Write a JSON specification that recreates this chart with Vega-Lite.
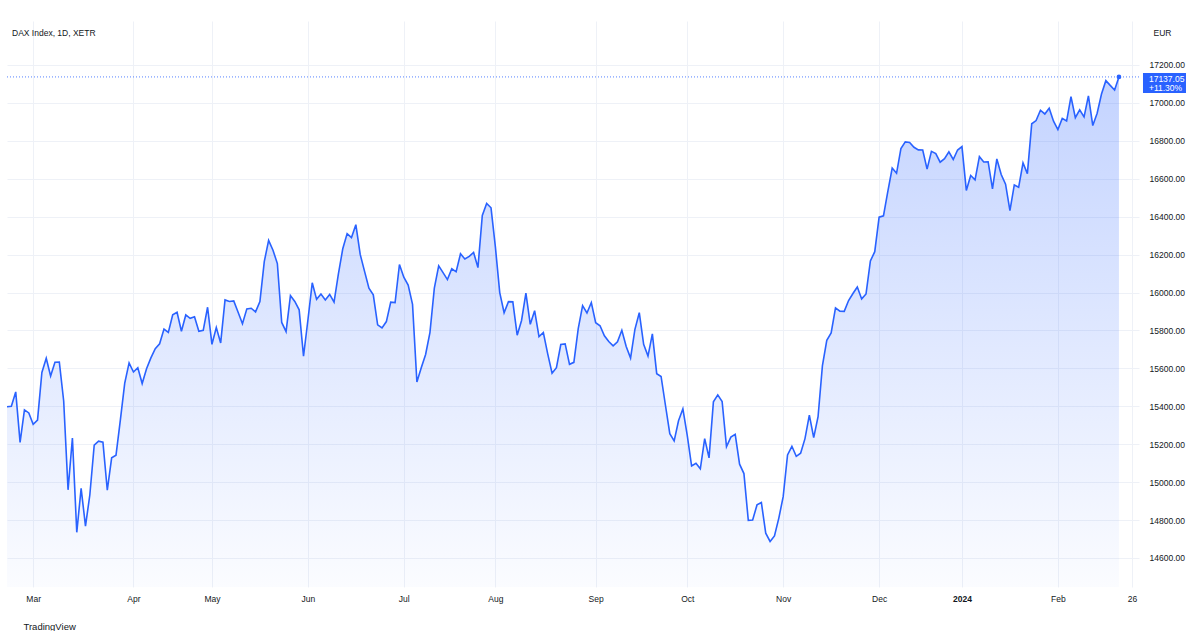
{
  "$schema": "https://vega.github.io/schema/vega-lite/v6.json",
  "width": 1132,
  "height": 566,
  "padding": {"left": 3, "top": 21, "right": 8, "bottom": 0},
  "background": "#ffffff",
  "config": {
    "view": {"stroke": null},
    "font": "Liberation Sans",
    "axis": {"labelColor": "#131722", "labelFontSize": 8.5, "titleColor": "#131722", "titleFontWeight": "normal"}
  },
  "title": {
    "text": "DAX Index, 1D, XETR",
    "anchor": "start",
    "frame": "group",
    "baseline": "middle",
    "offset": -20,
    "dx": 5,
    "fontSize": 8.5,
    "fontWeight": "normal",
    "color": "#131722"
  },
  "data": {
    "values": [
      {"date": "2023-02-21", "close": 15397.6},
      {"date": "2023-02-22", "close": 15399.9},
      {"date": "2023-02-23", "close": 15475.7},
      {"date": "2023-02-24", "close": 15209.7},
      {"date": "2023-02-27", "close": 15381.4},
      {"date": "2023-02-28", "close": 15365.1},
      {"date": "2023-03-01", "close": 15305.0},
      {"date": "2023-03-02", "close": 15327.6},
      {"date": "2023-03-03", "close": 15578.4},
      {"date": "2023-03-06", "close": 15653.6},
      {"date": "2023-03-07", "close": 15559.5},
      {"date": "2023-03-08", "close": 15631.9},
      {"date": "2023-03-09", "close": 15633.2},
      {"date": "2023-03-10", "close": 15427.9},
      {"date": "2023-03-13", "close": 14959.5},
      {"date": "2023-03-14", "close": 15232.8},
      {"date": "2023-03-15", "close": 14735.3},
      {"date": "2023-03-16", "close": 14967.1},
      {"date": "2023-03-17", "close": 14768.2},
      {"date": "2023-03-20", "close": 14933.4},
      {"date": "2023-03-21", "close": 15195.3},
      {"date": "2023-03-22", "close": 15216.2},
      {"date": "2023-03-23", "close": 15210.4},
      {"date": "2023-03-24", "close": 14957.2},
      {"date": "2023-03-27", "close": 15128.2},
      {"date": "2023-03-28", "close": 15142.0},
      {"date": "2023-03-29", "close": 15328.8},
      {"date": "2023-03-30", "close": 15522.4},
      {"date": "2023-03-31", "close": 15628.8},
      {"date": "2023-04-03", "close": 15580.9},
      {"date": "2023-04-04", "close": 15603.5},
      {"date": "2023-04-05", "close": 15520.2},
      {"date": "2023-04-06", "close": 15597.9},
      {"date": "2023-04-11", "close": 15655.2},
      {"date": "2023-04-12", "close": 15703.6},
      {"date": "2023-04-13", "close": 15729.5},
      {"date": "2023-04-14", "close": 15807.5},
      {"date": "2023-04-17", "close": 15789.5},
      {"date": "2023-04-18", "close": 15882.7},
      {"date": "2023-04-19", "close": 15895.9},
      {"date": "2023-04-20", "close": 15795.7},
      {"date": "2023-04-21", "close": 15881.7},
      {"date": "2023-04-24", "close": 15863.9},
      {"date": "2023-04-25", "close": 15872.0},
      {"date": "2023-04-26", "close": 15795.7},
      {"date": "2023-04-27", "close": 15800.5},
      {"date": "2023-04-28", "close": 15922.4},
      {"date": "2023-05-02", "close": 15726.9},
      {"date": "2023-05-03", "close": 15815.1},
      {"date": "2023-05-04", "close": 15734.2},
      {"date": "2023-05-05", "close": 15961.0},
      {"date": "2023-05-08", "close": 15952.8},
      {"date": "2023-05-09", "close": 15955.5},
      {"date": "2023-05-10", "close": 15896.2},
      {"date": "2023-05-11", "close": 15834.9},
      {"date": "2023-05-12", "close": 15913.8},
      {"date": "2023-05-15", "close": 15917.2},
      {"date": "2023-05-16", "close": 15897.9},
      {"date": "2023-05-17", "close": 15952.0},
      {"date": "2023-05-18", "close": 16163.4},
      {"date": "2023-05-19", "close": 16275.4},
      {"date": "2023-05-22", "close": 16223.0},
      {"date": "2023-05-23", "close": 16152.9},
      {"date": "2023-05-24", "close": 15842.1},
      {"date": "2023-05-25", "close": 15793.7},
      {"date": "2023-05-26", "close": 15983.9},
      {"date": "2023-05-29", "close": 15952.8},
      {"date": "2023-05-30", "close": 15908.9},
      {"date": "2023-05-31", "close": 15664.0},
      {"date": "2023-06-01", "close": 15853.7},
      {"date": "2023-06-02", "close": 16051.2},
      {"date": "2023-06-05", "close": 15963.9},
      {"date": "2023-06-06", "close": 15992.4},
      {"date": "2023-06-07", "close": 15960.6},
      {"date": "2023-06-08", "close": 15989.8},
      {"date": "2023-06-09", "close": 15949.8},
      {"date": "2023-06-12", "close": 16097.9},
      {"date": "2023-06-13", "close": 16230.7},
      {"date": "2023-06-14", "close": 16310.8},
      {"date": "2023-06-15", "close": 16290.1},
      {"date": "2023-06-16", "close": 16357.6},
      {"date": "2023-06-19", "close": 16201.2},
      {"date": "2023-06-20", "close": 16111.3},
      {"date": "2023-06-21", "close": 16023.1},
      {"date": "2023-06-22", "close": 15988.2},
      {"date": "2023-06-23", "close": 15829.9},
      {"date": "2023-06-26", "close": 15813.1},
      {"date": "2023-06-27", "close": 15846.9},
      {"date": "2023-06-28", "close": 15949.2},
      {"date": "2023-06-29", "close": 15946.7},
      {"date": "2023-06-30", "close": 16147.9},
      {"date": "2023-07-03", "close": 16081.0},
      {"date": "2023-07-04", "close": 16039.2},
      {"date": "2023-07-05", "close": 15937.7},
      {"date": "2023-07-06", "close": 15528.5},
      {"date": "2023-07-07", "close": 15603.4},
      {"date": "2023-07-10", "close": 15673.2},
      {"date": "2023-07-11", "close": 15790.3},
      {"date": "2023-07-12", "close": 16023.1},
      {"date": "2023-07-13", "close": 16141.0},
      {"date": "2023-07-14", "close": 16105.1},
      {"date": "2023-07-17", "close": 16068.4},
      {"date": "2023-07-18", "close": 16125.5},
      {"date": "2023-07-19", "close": 16109.4},
      {"date": "2023-07-20", "close": 16204.2},
      {"date": "2023-07-21", "close": 16177.2},
      {"date": "2023-07-24", "close": 16190.9},
      {"date": "2023-07-25", "close": 16211.4},
      {"date": "2023-07-26", "close": 16131.5},
      {"date": "2023-07-27", "close": 16406.0},
      {"date": "2023-07-28", "close": 16469.8},
      {"date": "2023-07-31", "close": 16446.8},
      {"date": "2023-08-01", "close": 16240.4},
      {"date": "2023-08-02", "close": 15999.8},
      {"date": "2023-08-03", "close": 15893.4},
      {"date": "2023-08-04", "close": 15951.9},
      {"date": "2023-08-07", "close": 15950.8},
      {"date": "2023-08-08", "close": 15774.9},
      {"date": "2023-08-09", "close": 15852.7},
      {"date": "2023-08-10", "close": 15996.6},
      {"date": "2023-08-11", "close": 15832.2},
      {"date": "2023-08-14", "close": 15904.3},
      {"date": "2023-08-15", "close": 15767.3},
      {"date": "2023-08-16", "close": 15789.3},
      {"date": "2023-08-17", "close": 15676.9},
      {"date": "2023-08-18", "close": 15574.3},
      {"date": "2023-08-21", "close": 15603.3},
      {"date": "2023-08-22", "close": 15725.9},
      {"date": "2023-08-23", "close": 15728.8},
      {"date": "2023-08-24", "close": 15621.5},
      {"date": "2023-08-25", "close": 15631.8},
      {"date": "2023-08-28", "close": 15810.0},
      {"date": "2023-08-29", "close": 15930.9},
      {"date": "2023-08-30", "close": 15891.9},
      {"date": "2023-08-31", "close": 15947.1},
      {"date": "2023-09-01", "close": 15840.6},
      {"date": "2023-09-04", "close": 15824.9},
      {"date": "2023-09-05", "close": 15772.2},
      {"date": "2023-09-06", "close": 15741.4},
      {"date": "2023-09-07", "close": 15718.7},
      {"date": "2023-09-08", "close": 15740.3},
      {"date": "2023-09-11", "close": 15800.9},
      {"date": "2023-09-12", "close": 15715.5},
      {"date": "2023-09-13", "close": 15654.4},
      {"date": "2023-09-14", "close": 15805.5},
      {"date": "2023-09-15", "close": 15893.5},
      {"date": "2023-09-18", "close": 15727.1},
      {"date": "2023-09-19", "close": 15664.5},
      {"date": "2023-09-20", "close": 15781.6},
      {"date": "2023-09-21", "close": 15571.9},
      {"date": "2023-09-22", "close": 15557.3},
      {"date": "2023-09-25", "close": 15405.5},
      {"date": "2023-09-26", "close": 15255.9},
      {"date": "2023-09-27", "close": 15217.5},
      {"date": "2023-09-28", "close": 15323.5},
      {"date": "2023-09-29", "close": 15386.6},
      {"date": "2023-10-02", "close": 15247.2},
      {"date": "2023-10-03", "close": 15085.2},
      {"date": "2023-10-04", "close": 15099.9},
      {"date": "2023-10-05", "close": 15070.2},
      {"date": "2023-10-06", "close": 15229.8},
      {"date": "2023-10-09", "close": 15128.1},
      {"date": "2023-10-10", "close": 15423.5},
      {"date": "2023-10-11", "close": 15460.0},
      {"date": "2023-10-12", "close": 15425.1},
      {"date": "2023-10-13", "close": 15186.7},
      {"date": "2023-10-16", "close": 15237.5},
      {"date": "2023-10-17", "close": 15251.7},
      {"date": "2023-10-18", "close": 15094.9},
      {"date": "2023-10-19", "close": 15045.2},
      {"date": "2023-10-20", "close": 14798.5},
      {"date": "2023-10-23", "close": 14800.7},
      {"date": "2023-10-24", "close": 14879.9},
      {"date": "2023-10-25", "close": 14892.2},
      {"date": "2023-10-26", "close": 14731.0},
      {"date": "2023-10-27", "close": 14687.4},
      {"date": "2023-10-30", "close": 14716.5},
      {"date": "2023-10-31", "close": 14810.3},
      {"date": "2023-11-01", "close": 14923.3},
      {"date": "2023-11-02", "close": 15143.6},
      {"date": "2023-11-03", "close": 15189.2},
      {"date": "2023-11-06", "close": 15135.9},
      {"date": "2023-11-07", "close": 15152.6},
      {"date": "2023-11-08", "close": 15229.6},
      {"date": "2023-11-09", "close": 15353.0},
      {"date": "2023-11-10", "close": 15234.4},
      {"date": "2023-11-13", "close": 15345.0},
      {"date": "2023-11-14", "close": 15614.4},
      {"date": "2023-11-15", "close": 15748.2},
      {"date": "2023-11-16", "close": 15786.6},
      {"date": "2023-11-17", "close": 15919.2},
      {"date": "2023-11-20", "close": 15901.3},
      {"date": "2023-11-21", "close": 15900.5},
      {"date": "2023-11-22", "close": 15957.8},
      {"date": "2023-11-23", "close": 15994.7},
      {"date": "2023-11-24", "close": 16029.5},
      {"date": "2023-11-27", "close": 15966.4},
      {"date": "2023-11-28", "close": 15992.7},
      {"date": "2023-11-29", "close": 16166.4},
      {"date": "2023-11-30", "close": 16215.4},
      {"date": "2023-12-01", "close": 16397.5},
      {"date": "2023-12-04", "close": 16404.5},
      {"date": "2023-12-05", "close": 16533.1},
      {"date": "2023-12-06", "close": 16656.4},
      {"date": "2023-12-07", "close": 16628.9},
      {"date": "2023-12-08", "close": 16759.2},
      {"date": "2023-12-11", "close": 16794.4},
      {"date": "2023-12-12", "close": 16791.7},
      {"date": "2023-12-13", "close": 16766.1},
      {"date": "2023-12-14", "close": 16752.2},
      {"date": "2023-12-15", "close": 16751.4},
      {"date": "2023-12-18", "close": 16650.6},
      {"date": "2023-12-19", "close": 16744.4},
      {"date": "2023-12-20", "close": 16733.1},
      {"date": "2023-12-21", "close": 16687.4},
      {"date": "2023-12-22", "close": 16706.2},
      {"date": "2023-12-27", "close": 16742.1},
      {"date": "2023-12-28", "close": 16701.5},
      {"date": "2023-12-29", "close": 16751.6},
      {"date": "2024-01-02", "close": 16769.4},
      {"date": "2024-01-03", "close": 16538.4},
      {"date": "2024-01-04", "close": 16617.3},
      {"date": "2024-01-05", "close": 16594.2},
      {"date": "2024-01-08", "close": 16716.5},
      {"date": "2024-01-09", "close": 16688.4},
      {"date": "2024-01-10", "close": 16689.8},
      {"date": "2024-01-11", "close": 16547.0},
      {"date": "2024-01-12", "close": 16704.6},
      {"date": "2024-01-15", "close": 16622.2},
      {"date": "2024-01-16", "close": 16571.7},
      {"date": "2024-01-17", "close": 16431.7},
      {"date": "2024-01-18", "close": 16567.4},
      {"date": "2024-01-19", "close": 16555.1},
      {"date": "2024-01-22", "close": 16683.4},
      {"date": "2024-01-23", "close": 16627.1},
      {"date": "2024-01-24", "close": 16889.9},
      {"date": "2024-01-25", "close": 16906.9},
      {"date": "2024-01-26", "close": 16961.4},
      {"date": "2024-01-29", "close": 16941.7},
      {"date": "2024-01-30", "close": 16972.3},
      {"date": "2024-01-31", "close": 16903.8},
      {"date": "2024-02-01", "close": 16859.0},
      {"date": "2024-02-02", "close": 16918.2},
      {"date": "2024-02-05", "close": 16904.4},
      {"date": "2024-02-06", "close": 17033.2},
      {"date": "2024-02-07", "close": 16921.9},
      {"date": "2024-02-08", "close": 16963.8},
      {"date": "2024-02-09", "close": 16926.5},
      {"date": "2024-02-12", "close": 17037.4},
      {"date": "2024-02-13", "close": 16880.8},
      {"date": "2024-02-14", "close": 16945.6},
      {"date": "2024-02-15", "close": 17046.6},
      {"date": "2024-02-16", "close": 17117.4},
      {"date": "2024-02-19", "close": 17092.3},
      {"date": "2024-02-20", "close": 17068.4},
      {"date": "2024-02-21", "close": 17137.05},
      {"date": "2024-02-22", "close": null},
      {"date": "2024-02-23", "close": null},
      {"date": "2024-02-26", "close": null},
      {"date": "2024-02-27", "close": null}
    ]
  },
  "encoding": {
    "x": {
      "field": "date",
      "type": "ordinal",
      "scale": {"type": "point", "padding": 0.3, "align": 0},
      "axis": {
        "values": ["2023-03-01", "2023-04-03", "2023-05-02", "2023-06-01", "2023-07-03", "2023-08-01", "2023-09-01", "2023-10-02", "2023-11-01", "2023-12-01", "2024-01-02", "2024-02-01", "2024-02-26"],
        "labelExpr": "utcmonth(toDate(datum.value)) == 0 ? utcFormat(toDate(datum.value), '%Y') : (utcdate(toDate(datum.value)) > 5 ? utcFormat(toDate(datum.value), '%d') : utcFormat(toDate(datum.value), '%b'))",
        "labelFontWeight": {"condition": {"test": "utcmonth(toDate(datum.value)) == 0", "value": "bold"}, "value": "normal"},
        "labelAngle": 0,
        "labelPadding": 7,
        "ticks": false,
        "domain": false,
        "grid": true,
        "gridColor": "#eef1f7",
        "title": "TradingView",
        "titleX": 16,
        "titleY": 39,
        "titleAlign": "left",
        "titleBaseline": "middle",
        "titleFontSize": 9.5
      }
    },
    "y": {
      "field": "close",
      "type": "quantitative",
      "scale": {"domain": [14447, 17432], "zero": false, "nice": false},
      "axis": {
        "orient": "right",
        "values": [14600, 14800, 15000, 15200, 15400, 15600, 15800, 16000, 16200, 16400, 16600, 16800, 17000, 17200],
        "format": ".2f",
        "labelPadding": 10,
        "ticks": false,
        "domain": false,
        "gridColor": "#eef1f7",
        "title": "EUR",
        "titleAngle": 0,
        "titleX": 14,
        "titleY": 11,
        "titleAlign": "left",
        "titleBaseline": "middle",
        "titleFontSize": 8.5
      }
    }
  },
  "layer": [
    {
      "mark": {
        "type": "area",
        "invalid": "break-paths-show-domains",
        "color": {
          "gradient": "linear",
          "x1": 1, "y1": 1, "x2": 1, "y2": 0,
          "stops": [
            {"offset": 0, "color": "rgba(41,98,255,0.02)"},
            {"offset": 1, "color": "rgba(41,98,255,0.28)"}
          ]
        }
      },
      "encoding": {"y2": {"datum": 14447}}
    },
    {
      "mark": {"type": "line", "invalid": "break-paths-show-domains", "color": "#2962FF", "strokeWidth": 1.6}
    },
    {
      "transform": [
        {"filter": "isValid(datum.close)"},
        {"window": [{"op": "first_value", "field": "close", "as": "first"}], "sort": [{"field": "date"}], "frame": [null, null]},
        {"window": [{"op": "row_number", "as": "fromEnd"}], "sort": [{"field": "date", "order": "descending"}]},
        {"filter": "datum.fromEnd == 1"},
        {"calculate": "format(datum.close, '.2f')", "as": "price"},
        {"calculate": "format(datum.close / datum.first - 1, '+.2%')", "as": "change"}
      ],
      "layer": [
        {
          "mark": {"type": "rule", "color": "#2962FF", "strokeWidth": 1, "strokeDash": [1, 2], "opacity": 0.8},
          "encoding": {"x": null}
        },
        {
          "mark": {"type": "point", "filled": true, "color": "#2962FF", "opacity": 1, "size": 22}
        },
        {
          "mark": {
            "type": "point",
            "filled": true,
            "color": "#2962FF",
            "opacity": 1,
            "size": 10000,
            "shape": "M0.481,-0.078L1.341,-0.078L1.341,0.322L0.481,0.322Z"
          }
        },
        {
          "mark": {"type": "text", "align": "left", "baseline": "middle", "dx": 30, "dy": 1.6, "fontSize": 8.5, "color": "#ffffff"},
          "encoding": {"text": {"field": "price"}}
        },
        {
          "mark": {"type": "text", "align": "left", "baseline": "middle", "dx": 30, "dy": 11.1, "fontSize": 8.5, "color": "#ffffff"},
          "encoding": {"text": {"field": "change"}}
        }
      ]
    }
  ]
}
